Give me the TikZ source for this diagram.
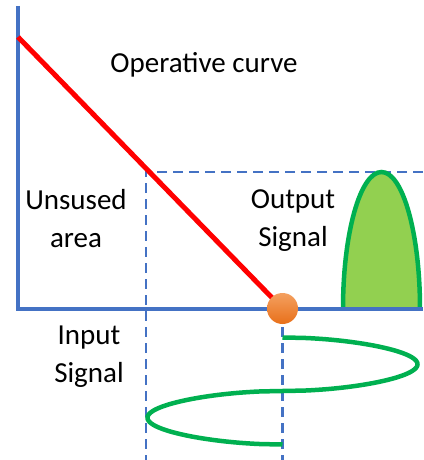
\documentclass[tikz,border=0pt]{standalone}
\usepackage{fontspec}
\setmainfont{Carlito}
\definecolor{axisblue}{HTML}{4472C4}
\definecolor{curvered}{HTML}{FF0000}
\definecolor{sigstroke}{HTML}{00B050}
\definecolor{sigfill}{HTML}{92D050}
\definecolor{dotlight}{HTML}{F4A060}
\definecolor{dotdark}{HTML}{E8701A}
\begin{document}
\begin{tikzpicture}[x=1pt,y=-1pt,
  axisline/.style={draw=axisblue,line width=4.5pt,line join=miter},
  guide/.style={draw=axisblue,line width=2.2pt,dash pattern=on 10pt off 6pt},
  opcurve/.style={draw=curvered,line width=5pt},
  signal/.style={draw=sigstroke,line width=4.5pt},
  label/.style={font=\fontsize{29}{37.5}\selectfont,align=center,inner sep=0pt,anchor=base}]
\useasboundingbox (0,0) rectangle (423,460);
% guide lines
\coordinate (gcorner) at (146,172);
\coordinate (gright) at (423,172);
\coordinate (gleftbot) at (146,460);
\coordinate (grightbot) at (282.5,460);
\coordinate (grighttop) at (282.5,327);
\draw[guide] (gright) -- (gcorner) -- (gleftbot);
\draw[guide] (grighttop) -- (grightbot);
% output signal
\coordinate (ob1) at (343,309);
\fill[sigfill] (ob1) arc[start angle=180,end angle=0,x radius=38.5pt,y radius=137pt] -- cycle;
\draw[signal] (ob1) arc[start angle=180,end angle=0,x radius=38.5pt,y radius=137pt];
% axes
\coordinate (ytop) at (18,6);
\coordinate (origin) at (18,309);
\coordinate (xend) at (423,309);
\draw[axisline] (ytop) -- (origin) -- (xend);
% operative curve
\coordinate (cstart) at (18,37);
\coordinate (q) at (282.5,308.5);
\draw[opcurve] (cstart) -- (q);
% input signal
\draw[signal] plot[domain=0:360,samples=241,smooth] ({282.5+135*sign(sin(\x))*sqrt(abs(sin(\x)))},{337.5+\x*0.2972});
% operating point
\node[circle,minimum size=31pt,inner sep=0pt,top color=dotlight,bottom color=dotdark] (dot) at (q) {};
% labels
\node[label] (title) at (204,73) {Operative curve};
\node[label] (unused) at (76,247) {Unsused\\area};
\node[label] (output) at (293,246) {Output\\Signal};
\node[label] (input) at (89,382) {Input\\Signal};
\end{tikzpicture}
\end{document}
